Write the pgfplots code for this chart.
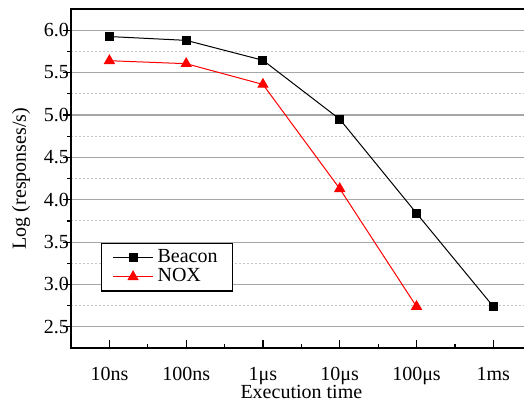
\documentclass[border=0pt]{standalone}
\usepackage{fontspec}
\setmainfont{Liberation Serif}
\usepackage{pgfplots}
\pgfplotsset{compat=1.18}

\begin{document}
\begin{tikzpicture}
\begin{axis}[
    scale only axis,
    width=230.3pt, height=169.5pt,
    xmin=-0.5, xmax=5.5,
    ymin=2.25, ymax=6.25,
    xtick pos=left,
    ytick pos=left,
    xtick align=inside,
    ytick align=outside,
    xtick={0,1,2,3,4,5},
    xticklabels={10ns,100ns,1μs,10μs,100μs,1ms},
    minor x tick num=1,
    ytick={2.5,3,3.5,4,4.5,5,5.5,6},
    minor y tick num=1,
    major tick length=4pt,
    minor tick length=2pt,
    xticklabel style={yshift=-6pt},
    yticklabel style={xshift=6.5pt, /pgf/number format/.cd, fixed, fixed zerofill, precision=1, assume math mode=true},
    ymajorgrids, yminorgrids,
    major grid style={gray!70, line width=0.6pt},
    minor grid style={gray!45, line width=0.5pt, dash pattern=on 1pt off 1pt},
    axis line style={black, line width=0.9pt},
    tick style={black, line width=0.6pt},
    xlabel={Execution time},
    ylabel={Log (responses/s)},
    xlabel style={yshift=6.5pt},
    legend style={at={(0.065,0.31)}, anchor=north west, draw=black, line width=0.6pt,
        font=\normalsize, inner xsep=5.5pt, inner ysep=1pt, row sep=-2.5pt},
    legend cell align=left,
    legend image code/.code={
        \draw[mark repeat=2, mark phase=2, #1] plot coordinates {(0pt,0pt) (10pt,0pt) (20pt,0pt)};
    },
]
\addplot[black, line width=0.5pt, mark=square*, mark size=2pt] coordinates {
    (0,5.925) (1,5.88) (2,5.645) (3,4.95) (4,3.84) (5,2.74)
};
\addplot[red, line width=0.5pt, mark=triangle*, mark size=2.8pt,
    mark options={fill=red}] coordinates {
    (0,5.64) (1,5.605) (2,5.36) (3,4.13) (4,2.74)
};
\legend{Beacon, NOX}
\coordinate (tl) at (rel axis cs:0,1);
\coordinate (tr) at (rel axis cs:1,1);
\coordinate (br) at (axis cs:5.4,2.25);
\end{axis}
\draw[black, line width=1.1pt] (tl) -- (tr);
\pgfresetboundingbox
\useasboundingbox ([xshift=-35.5pt,yshift=4.5pt]tl) rectangle ([yshift=-28.5pt]br);
\end{tikzpicture}
\end{document}
